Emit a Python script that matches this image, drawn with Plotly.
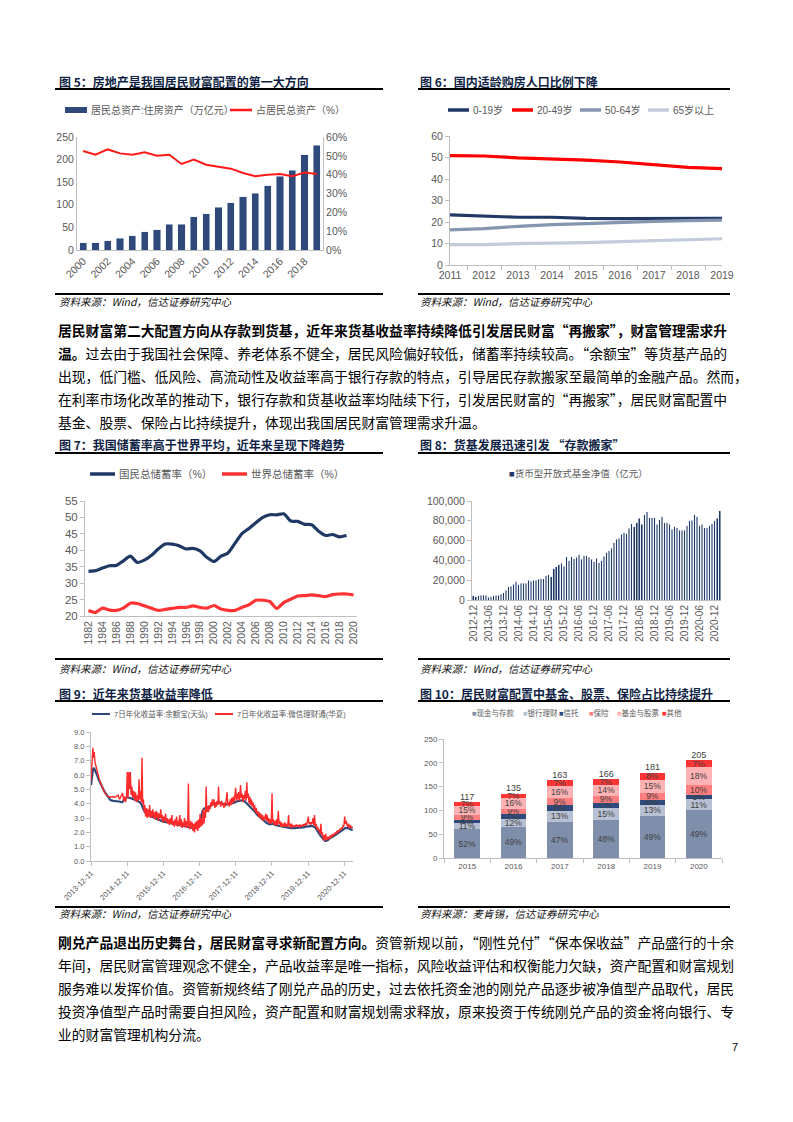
import plotly.graph_objects as go

W, H = 793, 1122
OX, OY = 8, 8   # page body margin of the browser: shift everything so it lands on the reference pixels
def px(x): return (x - OX) / W
def py(y): return 1 - (y - OY) / H

FONT = "Liberation Sans, Arial, Noto Sans CJK SC"
CJK = "Noto Sans CJK SC"
GRAY = "#595959"
AX = "#bfbfbf"
NAVY = "#1f3864"

# ---------------- data ----------------
# Fig 5
f5_years = ["2000","2001","2002","2003","2004","2005","2006","2007","2008","2009",
            "2010","2011","2012","2013","2014","2015","2016","2017","2018","2019"]
f5_ticks = ["2000","2002","2004","2006","2008","2010","2012","2014","2016","2018"]
f5_housing = [16,16,21,26,31,40,45,57,57,74,80,95,104,118,126,142,163,176,211,232]
f5_share = [52.6,50.6,53.4,51.3,50.6,51.9,50.1,50.6,45.7,48.0,45.3,44.3,43.2,40.9,39.2,39.9,40.4,39.2,41.1,40.4]

# Fig 6
f6_years = ["2011","2012","2013","2014","2015","2016","2017","2018","2019"]
f6_0_19 = [23.3,22.6,22.2,22.2,21.7,21.6,21.6,21.6,21.7]
f6_20_49 = [50.9,50.7,49.8,49.3,48.8,47.9,46.8,45.4,44.8]
f6_50_64 = [16.3,16.9,18.0,18.8,19.2,19.8,20.3,20.6,20.9]
f6_65 = [9.5,9.5,9.9,10.1,10.4,10.9,11.3,11.9,12.2]

# Fig 7
f7_years = [str(y) for y in range(1982, 2021)]
f7_ticks = [str(y) for y in range(1982, 2021, 2)]
f7_china = [33.6,33.8,34.6,35.3,35.4,36.8,38.2,36.3,37.0,38.4,40.4,41.9,41.9,41.4,40.4,40.6,39.8,37.8,36.6,38.2,
            39.2,42.1,45.1,46.6,48.4,50.0,50.8,50.8,51.1,48.9,48.8,47.9,47.8,45.8,44.5,44.8,44.1,44.5]
f7_world = [21.7,21.1,22.4,21.8,21.7,22.4,23.9,23.8,23.1,22.4,21.7,22.0,22.3,22.6,22.6,23.1,22.6,22.4,23.2,22.1,
            21.7,21.7,22.6,23.4,24.8,24.8,24.4,22.3,24.1,25.1,26.1,26.2,26.4,26.2,25.9,26.5,26.7,26.7,26.4]

# Fig 8
f8_months = ["2012-12"] + ["%d-%02d" % (y, m) for y in range(2013, 2021) for m in range(1, 13)] + ["2021-01", "2021-02"]
f8_ticks = ["2012-12","2013-06","2013-12","2014-06","2014-12","2015-06","2015-12","2016-06","2016-12",
            "2017-06","2017-12","2018-06","2018-12","2019-06","2019-12","2020-06","2020-12"]
f8_nav = [4400,
          3400,4400,4700,4700,4700,2700,3400,4400,4700,4700,6000,7400,
          10000,13400,14000,16000,18500,15400,16800,16800,16800,20000,18800,20000,
          20000,20800,21500,21500,24500,25500,23500,31500,33500,35600,37000,34000,
          43600,39600,43600,41600,43000,45600,41300,44600,44600,43000,41300,38600,
          42300,37600,39600,44300,47700,49700,52300,57700,61400,62400,66400,67800,
          67100,72500,77200,73800,78200,82600,76500,85900,89300,83200,83200,83200,
          76500,81200,83900,78200,78200,76500,71500,73800,73200,70500,70500,70500,
          75200,79900,80500,85900,83900,75200,76500,73200,73200,75200,77200,79900,
          82600,90000]

# Fig 9
f9_yeb_dates = ["2013-12-11","2013-12-20","2013-12-31","2014-01-10","2014-01-25","2014-02-10","2014-02-25","2014-03-15",
    "2014-04-05","2014-04-25","2014-05-15","2014-06-05","2014-06-25","2014-07-20","2014-08-20","2014-09-20","2014-10-20",
    "2014-11-15","2014-12-10","2015-01-10","2015-02-05","2015-03-05","2015-04-05","2015-05-01","2015-05-25","2015-06-15",
    "2015-07-10","2015-08-10","2015-09-10","2015-10-10","2015-11-10","2015-12-10","2016-01-10","2016-02-10","2016-03-10",
    "2016-04-10","2016-05-10","2016-06-10","2016-07-10","2016-08-10","2016-09-10","2016-10-10","2016-11-10","2016-12-05",
    "2016-12-25","2017-01-10","2017-01-25","2017-02-20","2017-03-20","2017-04-20","2017-05-20","2017-06-20","2017-07-20",
    "2017-08-20","2017-09-20","2017-10-20","2017-11-20","2017-12-20","2018-01-20","2018-02-20","2018-03-20","2018-04-20",
    "2018-05-20","2018-06-20","2018-07-20","2018-08-20","2018-09-20","2018-10-20","2018-11-20","2018-12-20","2019-01-20",
    "2019-02-20","2019-03-20","2019-04-20","2019-05-20","2019-06-20","2019-07-20","2019-08-20","2019-09-20","2019-10-20",
    "2019-11-20","2019-12-20","2020-01-20","2020-02-20","2020-03-20","2020-04-15","2020-05-10","2020-06-01","2020-06-25",
    "2020-07-20","2020-08-20","2020-09-20","2020-10-20","2020-11-20","2020-12-20","2021-01-15","2021-02-05","2021-02-25",
    "2021-03-05"]
f9_yeb = [5.3,6.0,6.4,6.5,6.3,6.0,5.7,5.4,5.1,4.85,4.65,4.4,4.25,4.2,4.2,4.15,4.1,4.3,4.45,4.4,4.35,4.25,4.15,4.0,3.6,3.35,
    3.2,3.1,3.0,2.9,2.8,2.75,2.7,2.65,2.6,2.55,2.5,2.45,2.4,2.38,2.35,2.3,2.32,2.45,3.0,3.5,3.65,3.7,3.8,3.95,4.05,4.1,4.05,
    3.95,3.95,3.98,4.05,4.15,4.2,4.25,4.1,3.9,3.7,3.45,3.2,3.0,2.8,2.65,2.55,2.6,2.5,2.45,2.4,2.35,2.35,2.3,2.3,2.3,2.3,2.35,
    2.4,2.45,2.45,2.35,2.0,1.75,1.55,1.4,1.45,1.6,1.7,1.85,2.0,2.15,2.3,2.3,2.25,2.2,2.15]

f9_ltt_dates = ["2013-12-11","2013-12-18","2013-12-24","2013-12-30","2014-01-05","2014-01-12","2014-01-20","2014-01-30",
    "2014-02-10","2014-02-20","2014-03-05","2014-03-20","2014-04-05","2014-04-20","2014-05-05","2014-05-20","2014-06-05",
    "2014-06-25","2014-07-15","2014-08-05","2014-08-25","2014-09-10","2014-09-25","2014-10-10","2014-10-25","2014-11-05",
    "2014-11-15","2014-11-25","2014-12-05","2014-12-12","2014-12-20","2014-12-28","2015-01-05","2015-01-12","2015-01-20",
    "2015-01-28","2015-02-05","2015-02-15","2015-02-25","2015-03-05","2015-03-15","2015-03-25","2015-04-02","2015-04-10",
    "2015-04-16","2015-04-24","2015-05-02","2015-05-10","2015-05-16","2015-05-24","2015-06-01","2015-06-08","2015-06-15",
    "2015-06-24","2015-07-02","2015-07-10","2015-07-18","2015-07-26","2015-08-03","2015-08-11","2015-08-19","2015-08-27",
    "2015-09-04","2015-09-12","2015-09-20","2015-09-28","2015-10-06","2015-10-14","2015-10-22","2015-10-30","2015-11-07",
    "2015-11-15","2015-11-23","2015-12-01","2015-12-09","2015-12-17","2015-12-25","2016-01-02","2016-01-10","2016-01-18",
    "2016-01-26","2016-02-03","2016-02-11","2016-02-19","2016-02-27","2016-03-06","2016-03-14","2016-03-22","2016-03-30",
    "2016-04-07","2016-04-15","2016-04-23","2016-05-01","2016-05-09","2016-05-17","2016-05-25","2016-06-02","2016-06-10",
    "2016-06-18","2016-06-26","2016-07-04","2016-07-12","2016-07-20","2016-07-28","2016-08-05","2016-08-13","2016-08-20",
    "2016-08-26","2016-09-03","2016-09-11","2016-09-19","2016-09-27","2016-10-05","2016-10-13","2016-10-21","2016-10-29",
    "2016-11-06","2016-11-14","2016-11-22","2016-11-30","2016-12-08","2016-12-16","2016-12-24","2017-01-01","2017-01-08",
    "2017-01-16","2017-01-24","2017-02-01","2017-02-08","2017-02-15","2017-02-22","2017-03-02","2017-03-10","2017-03-18",
    "2017-03-26","2017-04-03","2017-04-11","2017-04-19","2017-04-27","2017-05-05","2017-05-13","2017-05-21","2017-05-29",
    "2017-06-06","2017-06-14","2017-06-20","2017-06-26","2017-07-04","2017-07-12","2017-07-20","2017-07-28","2017-08-05",
    "2017-08-13","2017-08-21","2017-08-29","2017-09-06","2017-09-14","2017-09-22","2017-09-30","2017-10-08","2017-10-16",
    "2017-10-24","2017-11-01","2017-11-09","2017-11-17","2017-11-25","2017-12-03","2017-12-10","2017-12-17","2017-12-25",
    "2018-01-02","2018-01-10","2018-01-18","2018-01-28","2018-02-05","2018-02-13","2018-02-21","2018-03-01","2018-03-09",
    "2018-03-17","2018-03-25","2018-04-02","2018-04-08","2018-04-16","2018-04-24","2018-05-02","2018-05-10","2018-05-18",
    "2018-05-26","2018-06-03","2018-06-11","2018-06-19","2018-06-27","2018-07-05","2018-07-13","2018-07-21","2018-07-29",
    "2018-08-06","2018-08-14","2018-08-22","2018-08-30","2018-09-07","2018-09-15","2018-09-23","2018-10-01","2018-10-09",
    "2018-10-17","2018-10-25","2018-11-02","2018-11-10","2018-11-18","2018-11-26","2018-12-04","2018-12-12","2018-12-18",
    "2018-12-26","2019-01-04","2019-01-12","2019-01-20","2019-01-28","2019-02-05","2019-02-13","2019-02-21","2019-03-01",
    "2019-03-09","2019-03-17","2019-03-25","2019-04-02","2019-04-10","2019-04-18","2019-04-26","2019-05-04","2019-05-12",
    "2019-05-20","2019-05-28","2019-06-04","2019-06-12","2019-06-20","2019-06-28","2019-07-06","2019-07-14","2019-07-22",
    "2019-07-30","2019-08-07","2019-08-15","2019-08-23","2019-08-31","2019-09-08","2019-09-16","2019-09-24","2019-10-02",
    "2019-10-10","2019-10-18","2019-10-26","2019-11-03","2019-11-11","2019-11-19","2019-11-27","2019-12-05","2019-12-13",
    "2019-12-20","2019-12-28","2020-01-05","2020-01-13","2020-01-21","2020-01-29","2020-02-06","2020-02-14","2020-02-22",
    "2020-03-01","2020-03-09","2020-03-17","2020-03-25","2020-04-02","2020-04-10","2020-04-18","2020-04-26","2020-05-04",
    "2020-05-12","2020-05-20","2020-05-28","2020-06-05","2020-06-13","2020-06-21","2020-06-29","2020-07-07","2020-07-15",
    "2020-07-23","2020-07-31","2020-08-08","2020-08-16","2020-08-24","2020-09-01","2020-09-09","2020-09-17","2020-09-25",
    "2020-10-03","2020-10-11","2020-10-19","2020-10-27","2020-11-04","2020-11-12","2020-11-20","2020-11-28","2020-12-06",
    "2020-12-14","2020-12-22","2020-12-30","2021-01-07","2021-01-15","2021-01-23","2021-01-31","2021-02-08","2021-02-16",
    "2021-02-24","2021-03-04"]
f9_ltt = [5.6,6.6,7.4,7.9,7.2,7.6,6.9,6.6,6.3,6.0,5.7,5.4,5.1,4.9,4.7,4.55,4.5,4.45,4.5,4.45,4.5,4.6,4.3,4.55,4.75,4.2,
    4.5,4.1,4.6,6.2,4.4,6.2,5.0,6.2,4.6,5.2,4.4,4.9,4.2,4.8,4.1,4.6,4.2,5.7,4.3,4.9,4.1,7.2,4.0,4.3,3.4,3.9,3.1,3.7,3.0,
    3.6,3.1,3.9,3.0,3.5,3.1,3.6,3.0,3.4,2.9,3.5,3.0,3.4,2.8,3.3,3.0,3.6,2.9,3.2,2.7,3.1,2.8,3.3,2.7,3.0,2.6,2.9,2.5,3.0,
    2.6,3.2,2.5,2.8,2.4,2.9,2.5,3.1,2.4,2.8,2.5,3.2,2.4,2.9,2.3,2.7,2.4,3.0,2.4,2.8,2.3,2.6,5.4,2.5,2.2,2.8,2.3,2.7,2.1,
    2.6,2.0,2.7,2.2,2.8,2.1,2.9,2.3,3.3,2.4,3.0,2.5,3.6,2.6,3.5,3.0,5.2,3.4,3.8,3.4,3.9,3.6,4.1,3.8,4.3,3.9,4.3,3.7,4.1,
    3.8,4.2,3.9,5.2,4.0,4.1,3.8,4.2,3.9,4.0,3.7,4.1,3.8,4.3,4.8,3.9,4.1,3.8,4.3,3.9,4.4,4.0,4.5,4.1,4.6,5.1,4.2,4.7,4.3,
    4.8,4.2,5.3,4.4,4.7,4.1,4.6,4.3,4.9,4.2,5.5,4.4,4.7,4.0,4.5,3.9,4.3,3.8,4.1,3.6,3.9,3.4,3.7,3.3,3.5,3.1,3.4,3.0,3.3,
    2.9,3.2,2.8,3.1,2.9,3.3,2.8,3.2,2.7,3.0,2.6,2.9,2.6,4.7,2.7,2.9,2.5,2.8,2.5,2.9,2.5,3.5,2.6,2.8,2.4,2.7,2.4,2.6,2.4,
    2.7,2.4,2.6,2.4,2.5,3.2,2.4,2.6,2.3,2.6,2.4,2.5,2.35,2.5,2.4,2.55,2.4,2.5,2.35,2.55,2.4,2.5,2.4,2.55,2.45,2.6,2.45,
    2.65,2.5,2.8,3.1,2.6,2.7,2.5,2.7,2.6,3.0,2.5,3.2,2.4,2.6,2.2,2.4,2.1,2.2,1.9,2.6,1.8,2.0,1.5,1.8,1.4,1.9,1.5,1.7,1.5,
    1.7,1.55,1.8,1.6,1.85,1.7,1.9,1.8,2.0,1.9,2.1,1.95,2.15,2.05,2.25,2.15,2.35,2.25,2.5,2.4,3.1,2.6,2.8,2.5,2.4,2.6,2.3,
    2.5,2.3,2.4,2.3]
f9_tickvals = ["2013-12-11","2014-12-11","2015-12-11","2016-12-11","2017-12-11","2018-12-11","2019-12-11","2020-12-11"]

# Fig 10
f10_years = ["2015","2016","2017","2018","2019","2020"]
f10_totals = [117,135,163,166,181,205]
f10_cash = [52,49,47,48,49,49]
f10_wm = [11,12,13,15,13,11]
f10_trust = [6,7,8,7,5,5]
f10_ins = [9,9,9,9,9,10]
f10_fund = [15,16,16,14,15,18]
f10_other = [7,7,7,7,8,7]
f10_names = ["现金与存款","银行理财","信托","保险","基金与股票","其他"]
f10_colors = ["#7f8fab","#b7c1d3","#2e4a7d","#ff7f80","#ffb3b4","#ff3535"]

# series styles / names
C5_BAR, C5_LINE = "#2f4a7a", "#ff1a1a"
f5_names = ["居民总资产:住房资产（万亿元）", "占居民总资产（%）"]
f6_names = ["0-19岁", "20-49岁", "50-64岁", "65岁以上"]
f6_colors = [NAVY, "#ff0000", "#8496b0", "#c3ccdb"]
f7_names = ["国民总储蓄率（%）", "世界总储蓄率（%）"]
f7_colors = [NAVY, "#ff3333"]
f9_names = ["7日年化收益率:余额宝(天弘)", "7日年化收益率:微信理财通(华夏)"]
f9_colors = ["#2f4a7a", "#ff2a2a"]

# ---------------- figure ----------------
fig = go.Figure()

# Fig 5
fig.add_trace(go.Bar(x=f5_years, y=f5_housing, name=f5_names[0], marker_color=C5_BAR,
                     width=0.58, xaxis="x", yaxis="y"))
fig.add_trace(go.Scatter(x=f5_years, y=f5_share, name=f5_names[1], mode="lines",
                         line=dict(color=C5_LINE, width=2), xaxis="x", yaxis="y2"))
# Fig 6
for nm, vals, col in zip(f6_names, [f6_0_19, f6_20_49, f6_50_64, f6_65], f6_colors):
    fig.add_trace(go.Scatter(x=f6_years, y=vals, name=nm, mode="lines", line=dict(color=col, width=3.2),
                             xaxis="x2", yaxis="y3"))
# Fig 7
fig.add_trace(go.Scatter(x=f7_years[:len(f7_china)], y=f7_china, name=f7_names[0], mode="lines",
                         line=dict(color=f7_colors[0], width=3.2, shape="spline", smoothing=0.6), xaxis="x3", yaxis="y4"))
fig.add_trace(go.Scatter(x=f7_years, y=f7_world, name=f7_names[1], mode="lines",
                         line=dict(color=f7_colors[1], width=3.2, shape="spline", smoothing=0.6), xaxis="x3", yaxis="y4"))
# Fig 8
fig.add_trace(go.Bar(x=f8_months, y=f8_nav, name="货币型开放式基金净值（亿元）", marker_color=NAVY, width=0.62,
                     xaxis="x4", yaxis="y5"))
# Fig 9
fig.add_trace(go.Scatter(x=f9_yeb_dates, y=f9_yeb, name=f9_names[0], mode="lines",
                         line=dict(color=f9_colors[0], width=2.2), xaxis="x5", yaxis="y6"))
fig.add_trace(go.Scatter(x=f9_ltt_dates, y=f9_ltt, name=f9_names[1], mode="lines",
                         line=dict(color=f9_colors[1], width=1.4), xaxis="x5", yaxis="y6"))
# Fig 10
for nm, pcts, col in zip(f10_names, [f10_cash, f10_wm, f10_trust, f10_ins, f10_fund, f10_other], f10_colors):
    fig.add_trace(go.Bar(x=f10_years, y=[t * p / 100 for t, p in zip(f10_totals, pcts)], name=nm,
                         marker=dict(color=col, line=dict(width=0)), width=0.56,
                         text=[f"{p}%" for p in pcts], textposition="inside", insidetextanchor="middle",
                         textangle=0, textfont=dict(size=8.5, color="#404040", family=FONT),
                         xaxis="x6", yaxis="y7"))
fig.add_trace(go.Scatter(x=f10_years, y=f10_totals, mode="text", text=[str(t) for t in f10_totals],
                         textposition="top center", textfont=dict(size=9, color="#404040", family=FONT),
                         xaxis="x6", yaxis="y7", hoverinfo="skip"))

def ax(**kw):
    d = dict(showgrid=False, zeroline=False, showline=True, linecolor=AX, linewidth=1,
             tickfont=dict(family=FONT, size=10.5, color=GRAY), ticks="", fixedrange=True, automargin=False)
    d.update(kw)
    return d

tick_out = dict(ticks="outside", ticklen=4, tickcolor=AX, tickwidth=1)

layout = dict(
    width=W, height=H, autosize=False, margin=dict(l=0, r=0, t=0, b=0, pad=0, autoexpand=False),
    paper_bgcolor="white", plot_bgcolor="white", barmode="stack", showlegend=False,
    uniformtext=dict(minsize=8.5, mode="show"),
    font=dict(family=FONT, color=GRAY),
    # Fig 5
    xaxis=ax(domain=[px(77), px(323)], anchor="y", type="category", tickvals=f5_ticks, tickangle=-45,
             range=[-0.5, 19.5]),
    yaxis=ax(domain=[py(250), py(137)], anchor="x", range=[0, 250], dtick=50),
    yaxis2=ax(overlaying="y", side="right", anchor="x", range=[0, 60], dtick=10, ticksuffix="%"),
    # Fig 6
    xaxis2=ax(domain=[px(450), px(722)], anchor="y3", type="category", tickson="boundaries", **tick_out),
    yaxis3=ax(domain=[py(265), py(136)], anchor="x2", range=[0, 60], dtick=10, **tick_out),
    # Fig 7
    xaxis3=ax(domain=[px(85), px(357)], anchor="y4", type="category", tickvals=f7_ticks, tickangle=-90,
              range=[-0.5, 38.5], tickfont=dict(family=FONT, size=10.5, color=GRAY)),
    yaxis4=ax(domain=[py(616), py(501)], anchor="x3", range=[20, 55], dtick=5,
              tickfont=dict(family=FONT, size=11.5, color=GRAY), **tick_out),
    # Fig 8
    xaxis4=ax(domain=[px(472), px(721)], anchor="y5", type="category", tickvals=f8_ticks, tickangle=-90,
              range=[-0.5, 98.5], tickfont=dict(family=FONT, size=10, color=GRAY)),
    yaxis5=ax(domain=[py(600), py(501)], anchor="x4", range=[0, 100000], dtick=20000, tickformat=",",
              **tick_out),
    # Fig 9
    xaxis5=ax(domain=[px(91), px(353)], anchor="y6", type="date", range=["2013-12-11", "2021-03-08"],
              tickvals=f9_tickvals, ticktext=f9_tickvals, tickangle=-45,
              tickfont=dict(family=FONT, size=7.5, color=GRAY), **tick_out),
    yaxis6=ax(domain=[py(861), py(732)], anchor="x5", range=[0, 9], dtick=1, tickformat=".1f",
              tickfont=dict(family=FONT, size=7.5, color=GRAY), **tick_out),
    # Fig 10
    xaxis6=ax(domain=[px(444), px(722)], anchor="y7", type="category", tickson="boundaries",
              tickfont=dict(family=FONT, size=8, color=GRAY), **tick_out),
    yaxis7=ax(domain=[py(858), py(739)], anchor="x6", range=[0, 250], dtick=50,
              tickfont=dict(family=FONT, size=8, color=GRAY), **tick_out),
)
fig.update_layout(**layout)

ann = []
shapes = []
TITLE_C = "#0f1f45"
def text(x, y, t, size, color=GRAY, family=FONT, anchor="left"):
    ann.append(dict(x=px(x), y=py(y), xref="paper", yref="paper", xanchor=anchor, yanchor="middle",
                    text=t, showarrow=False, font=dict(family=family, size=size, color=color)))
def title(x, y, t):
    text(x, y, "<b>" + t + "</b>", 12, TITLE_C, CJK)
def source(x, y, t):
    text(x, y, "<i>" + t + "</i>", 10.5, "#111111", CJK)
def rule(x0, x1, y, w=2, color="black"):
    shapes.append(dict(type="line", xref="paper", yref="paper", x0=px(x0), x1=px(x1), y0=py(y), y1=py(y),
                       line=dict(color=color, width=w)))
def key_line(x0, x1, y, color, w, label, size):
    rule(x0, x1, y, w, color)
    text(x1 + 2, y, label, size)

title(57, 82, "图 5：房地产是我国居民财富配置的第一大方向")
title(418, 82, "图 6：国内适龄购房人口比例下降")
title(57, 445, "图 7：我国储蓄率高于世界平均，近年来呈现下降趋势")
title(418, 445, "图 8：货基发展迅速引发 “存款搬家”")
title(57, 693, "图 9：近年来货基收益率降低")
title(418, 693, "图 10：居民财富配置中基金、股票、保险占比持续提升")
for (a, b) in [(55, 383), (418, 730)]:
    rule(a, b, 89); rule(a, b, 294)
    rule(a, b, 453); rule(a, b, 659)
    rule(a, b, 701); rule(a, b, 907)
source(57, 302, "资料来源：Wind，信达证券研究中心")
source(418, 302, "资料来源：Wind，信达证券研究中心")
source(57, 668, "资料来源：Wind，信达证券研究中心")
source(418, 668, "资料来源：Wind，信达证券研究中心")
source(57, 913, "资料来源：Wind，信达证券研究中心")
source(418, 913, "资料来源：麦肯锡，信达证券研究中心")

# legends
shapes.append(dict(type="rect", xref="paper", yref="paper", x0=px(65), x1=px(87), y0=py(113), y1=py(107),
                   fillcolor=C5_BAR, line=dict(width=0)))
text(89, 110, f5_names[0], 10)
key_line(230, 252, 110, C5_LINE, 2.5, f5_names[1], 10)
for x0, nm, col in zip([448, 512, 580, 648], f6_names, f6_colors):
    key_line(x0, x0 + 21, 110, col, 3.5, nm, 10)
for x0, nm, col in zip([90, 222], f7_names, f7_colors):
    key_line(x0, x0 + 25, 474, col, 3.5, nm, 10.5)
text(578, 473, "<span style='color:%s'>■</span>货币型开放式基金净值（亿元）" % NAVY, 9.5, anchor="center")
for x0, nm, col in zip([92, 215], f9_names, f9_colors):
    key_line(x0, x0 + 18, 714, col, 2, nm, 7.5)
for xpos, nm, col in zip([470, 521, 557, 587, 615, 660], f10_names, f10_colors):
    text(xpos, 713, "<span style='color:%s'>■</span>%s" % (col, nm), 7.5)

# body text
P1 = ["<b>居民财富第二大配置方向从存款到货基，近年来货基收益率持续降低引发居民财富“再搬家”，财富管理需求升</b>",
      "<b>温。</b>过去由于我国社会保障、养老体系不健全，居民风险偏好较低，储蓄率持续较高。“余额宝”等货基产品的",
      "出现，低门槛、低风险、高流动性及收益率高于银行存款的特点，引导居民存款搬家至最简单的金融产品。然而，",
      "在利率市场化改革的推动下，银行存款和货基收益率均陆续下行，引发居民财富的“再搬家”，居民财富配置中",
      "基金、股票、保险占比持续提升，体现出我国居民财富管理需求升温。"]
P2 = ["<b>刚兑产品退出历史舞台，居民财富寻求新配置方向。</b>资管新规以前，“刚性兑付”“保本保收益”产品盛行的十余",
      "年间，居民财富管理观念不健全，产品收益率是唯一指标，风险收益评估和权衡能力欠缺，资产配置和财富规划",
      "服务难以发挥价值。资管新规终结了刚兑产品的历史，过去依托资金池的刚兑产品逐步被净值型产品取代，居民",
      "投资净值型产品时需要自担风险，资产配置和财富规划需求释放，原来投资于传统刚兑产品的资金将向银行、专",
      "业的财富管理机构分流。"]
for lines, ys in [(P1, [330, 353, 376, 399, 422]), (P2, [942, 965, 988, 1011, 1034])]:
    for t, yv in zip(lines, ys):
        text(56, yv, t, 13.8, "black", CJK)
text(735, 1047, "7", 11, "black", anchor="center")

fig.update_layout(annotations=ann, shapes=shapes)
fig.write_html("out.html")
